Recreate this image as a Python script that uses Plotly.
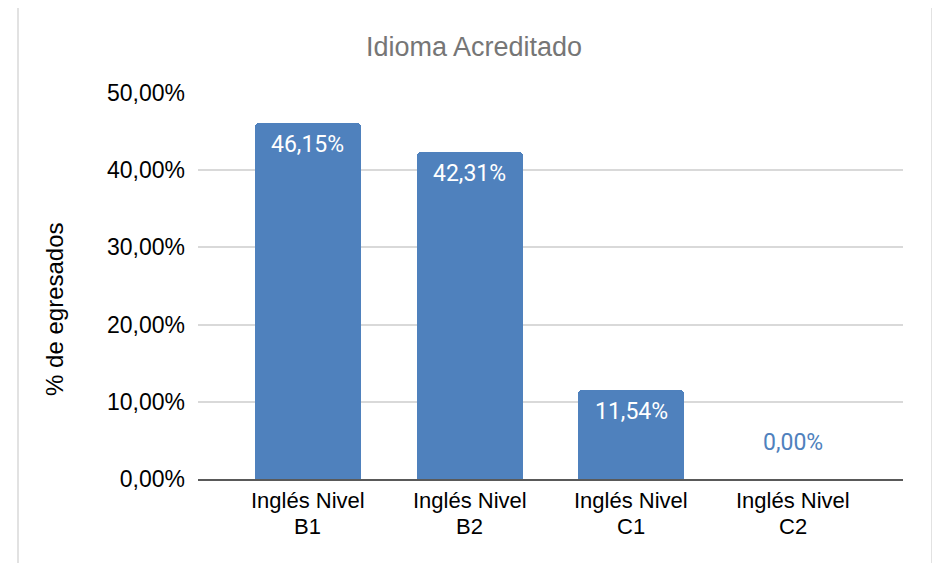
import plotly.graph_objects as go

categories = ["Inglés Nivel B1", "Inglés Nivel B2", "Inglés Nivel C1", "Inglés Nivel C2"]
values = [46.15, 42.31, 11.54, 0.00]
y_ticks = [0, 10, 20, 30, 40, 50]
y_tick_labels = ["0,00%", "10,00%", "20,00%", "30,00%", "40,00%", "50,00%"]

BAR = "#4f81bd"

def fmt(v):
    return f"{v:.2f}".replace(".", ",") + "%"

fig = go.Figure()
fig.add_trace(go.Bar(
    x=list(range(len(categories))),
    y=values,
    width=0.654,
    marker=dict(color=BAR, line=dict(width=0), cornerradius=4),
    hovertext=categories,
))

annotations = []
for i, v in enumerate(values):
    if v > 0:
        annotations.append(dict(
            x=i, y=v, xref="x", yref="y", text=fmt(v), showarrow=False,
            yanchor="top", yshift=-6,
            font=dict(family="Roboto", size=23, color="white"),
        ))
    else:
        annotations.append(dict(
            x=i, y=v, xref="x", yref="y", text=fmt(v), showarrow=False,
            yanchor="middle", yshift=37,
            font=dict(family="Roboto", size=23, color=BAR),
        ))

# category labels on two lines (Excel-like tight spacing)
for i, c in enumerate(categories):
    first, second = c.rsplit(" ", 1)
    for txt, shift in ((first, -21), (second, -47)):
        annotations.append(dict(
            x=i, y=0, xref="x", yref="y", text=txt, showarrow=False,
            yanchor="middle", yshift=shift, borderpad=0,
            font=dict(family="Liberation Sans", size=22, color="#000000"),
        ))

annotations.append(dict(
    text="% de egresados", xref="paper", yref="paper", x=0, y=0.438,
    xshift=-143, xanchor="center", yanchor="middle", textangle=-90,
    showarrow=False, font=dict(family="Liberation Sans", size=24, color="#000000"),
))

fig.update_layout(
    width=932, height=555,
    margin=dict(l=190, r=37, t=85, b=84),
    paper_bgcolor="white", plot_bgcolor="white",
    showlegend=False,
    title=dict(text="Idioma Acreditado", x=466 / 932, xanchor="center",
               y=1 - 39 / 555, yanchor="middle",
               font=dict(family="Liberation Sans", size=27, color="#767676")),
    font=dict(family="Liberation Sans", size=23, color="#000000"),
    annotations=annotations,
    bargap=0,
    shapes=[dict(type="rect", xref="paper", yref="paper",
                 x0=(18 - 198) / 705, x1=(932 - 198) / 705,
                 y0=(479 - 575) / 386, y1=(479 - 6) / 386,
                 line=dict(color="#d9d9d9", width=1.5), layer="below")],
)
fig.update_xaxes(
    range=[-0.679, 3.679],
    showgrid=False, showline=True, linecolor="#595959", linewidth=1.5,
    ticks="", showticklabels=False, zeroline=False,
)
fig.update_yaxes(
    range=[0, 50], tickmode="array", tickvals=y_ticks, ticktext=y_tick_labels,
    showgrid=True, gridcolor="#d9d9d9", gridwidth=1.5, zeroline=False,
    showline=False, ticks="", ticklabelstandoff=12,
    tickfont=dict(family="Liberation Sans", size=23, color="#000000"),
)

fig.write_html("out.html")
